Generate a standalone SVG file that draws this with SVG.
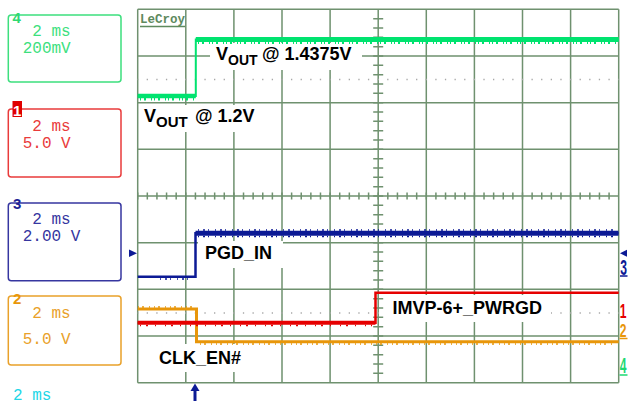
<svg xmlns="http://www.w3.org/2000/svg" width="628" height="407" viewBox="0 0 628 407">
<style>
.grid{stroke:#6f916f;stroke-width:1.5;fill:none}
.dots{stroke:#a8a8a8;stroke-width:1.3;stroke-dasharray:1.3 8.32;stroke-dashoffset:0.65;fill:none}
.box{fill:none;stroke-width:1.5}
.mono{font-family:"Liberation Mono","DejaVu Sans Mono",monospace;font-size:16px}
.num{font-family:"Liberation Sans",Arial,sans-serif;font-weight:bold;font-size:15px}
.lbl{font-family:"Liberation Sans",Arial,sans-serif;font-weight:bold;font-size:18px;fill:#000}
.rm{font-family:"Liberation Sans",Arial,sans-serif;font-size:22px;font-weight:bold}
.wb{fill:#fff}
</style>
<rect width="628" height="407" fill="#fff"/>

<g id="grid">
<path class="grid" d="M137.7 9.3V382.7M185.8 9.3V382.7M233.9 9.3V382.7M282 9.3V382.7M330.1 9.3V382.7M378.2 9.3V382.7M426.3 9.3V382.7M474.4 9.3V382.7M522.5 9.3V382.7M570.6 9.3V382.7M618.7 9.3V382.7"/>
<path class="grid" d="M137.7 9.3H618.7M137.7 56H618.7M137.7 102.65H618.7M137.7 149.3H618.7M137.7 196H618.7M137.7 242.7H618.7M137.7 289.35H618.7M137.7 336H618.7M137.7 382.7H618.7"/>
<line x1="137.7" y1="196" x2="618.7" y2="196" stroke="#6f916f" stroke-width="7" stroke-dasharray="1.5 8.12" stroke-dashoffset="0.75"/>
<line x1="378.2" y1="9.3" x2="378.2" y2="382.7" stroke="#6f916f" stroke-width="10" stroke-dasharray="1.5 7.835" stroke-dashoffset="0.75"/>
<line class="dots" x1="137.7" y1="79.5" x2="618.7" y2="79.5"/>
<line class="dots" x1="137.7" y1="313" x2="618.7" y2="313"/>
</g>

<g id="logo">
<text x="140" y="23" font-family="Liberation Mono,DejaVu Sans Mono,monospace" font-weight="bold" font-size="12.5" fill="#5e8a5e">LeCroy</text>
<line x1="140" y1="26.5" x2="185" y2="26.5" stroke="#5e8a5e" stroke-width="1.5"/>
</g>

<g id="label-boxes">
<rect class="wb" x="210" y="43" width="152" height="27"/>
<rect class="wb" x="140" y="105" width="125" height="27"/>
<rect class="wb" x="198" y="241" width="85" height="27"/>
<rect class="wb" x="385" y="295" width="166" height="27"/>
<rect class="wb" x="152" y="344" width="98" height="28"/>
</g>

<g id="connectors">
<!-- ch4 green -->
<path d="M137.7 96H195.8V39.5H618.7" fill="none" stroke="#00e36f" stroke-width="2"/>
<path d="M137.7 96H195.8" stroke="#00e36f" stroke-width="4.5"/>
<path d="M195.8 39.5H618.7" stroke="#00e36f" stroke-width="5"/>
<path d="M140 99H194M198 42.5H616" stroke="#00e36f" stroke-width="3" stroke-dasharray="1 3 2 5 1 2"/>
<!-- ch3 blue -->
<path d="M137.7 276.7H195.5V233.3H618.5" fill="none" stroke="#0c1a95" stroke-width="2.5"/>
<path d="M195.5 233.3H618.5" stroke="#0c1a95" stroke-width="5"/>
<path d="M198 230H616M198 236.5H616M160 279H192" stroke="#0c1a95" stroke-width="1.5" stroke-dasharray="1 4 2 3 1 6"/>
<!-- ch2 orange -->
<path d="M137.7 309H196.5V341.7H618.7" fill="none" stroke="#e8960a" stroke-width="3"/>
<path d="M138 307H195M200 344H616" stroke="#e8960a" stroke-width="1.5" stroke-dasharray="1 3 2 5 1 4"/>
<!-- ch1 red -->
<path d="M137.7 322.7H375.5V292.7H618.7" fill="none" stroke="#e60000" stroke-width="2.5"/>
<path d="M137.7 322.7H375.5" stroke="#e60000" stroke-width="4"/>
<path d="M140 325.5H372" stroke="#e60000" stroke-width="1.5" stroke-dasharray="1 5 2 7 1 9"/>
</g>

<g id="trace-labels">
<text class="lbl" x="216" y="60">V<tspan font-size="14" dy="5">OUT</tspan><tspan x="262" dy="-5">@ 1.4375V</tspan></text>
<text class="lbl" x="144" y="122" font-size="19">V<tspan font-size="15" dy="5">OUT</tspan><tspan x="195" dy="-5">@ 1.2V</tspan></text>
<text class="lbl" x="205" y="259">PGD_IN</text>
<text class="lbl" x="392.5" y="314">IMVP-6+_PWRGD</text>
<text class="lbl" x="159" y="364">CLK_EN#</text>
</g>

<g id="markers">
<polygon points="137,253.3 129,249.5 129,257" fill="#0c1a95"/>
<polygon points="620,253.3 627,249.8 627,256.8" fill="#0c1a95"/>
<text class="rm" transform="translate(620.3 274.5) scale(0.55 1)" fill="#0c1a95">3</text>
<line x1="620" y1="276" x2="627.5" y2="276" stroke="#0c1a95" stroke-width="1.5"/>
<text class="rm" transform="translate(619.8 317.5) scale(0.55 0.95)" fill="#e60000">1</text>
<text class="rm" transform="translate(619.8 337) scale(0.55 0.8)" fill="#e8960a">2</text>
<line x1="619.5" y1="338.5" x2="627.5" y2="338.5" stroke="#e8960a" stroke-width="1.5"/>
<text class="rm" transform="translate(619.8 372.8) scale(0.55 1)" fill="#1ed873">4</text>
<line x1="619.5" y1="375" x2="627.5" y2="375" stroke="#1ed873" stroke-width="1.5"/>
<path d="M195 390V401" stroke="#0c1a95" stroke-width="3"/>
<polygon points="195,383.5 190.5,391 199.5,391" fill="#0c1a95"/>
</g>

<g id="ch4">
<rect class="box" x="8.3" y="15" width="112.7" height="67" rx="3" stroke="#3ddf7e"/>
<text class="num" x="12.5" y="22.5" fill="#2fd872">4</text>
<text class="mono" x="32.3" y="36" fill="#3ddf7e">2 ms</text>
<text class="mono" x="22.7" y="53.3" fill="#3ddf7e">200mV</text>
</g>

<g id="ch1">
<rect class="box" x="8.3" y="109" width="112.7" height="68" rx="3" stroke="#e93b3b"/>
<rect x="12.5" y="101" width="9.5" height="16" fill="#e00000"/>
<text class="num" x="13" y="115.5" fill="#fff">1</text>
<text class="mono" x="32.3" y="131" fill="#e93b3b">2 ms</text>
<text class="mono" x="22.7" y="147.7" fill="#e93b3b">5.0 V</text>
</g>

<g id="ch3">
<rect class="box" x="8.3" y="203" width="112.7" height="77.7" rx="3" stroke="#3636a0"/>
<text class="num" x="13" y="208.5" fill="#1f1f95">3</text>
<text class="mono" x="32.3" y="224.3" fill="#3636a0">2 ms</text>
<text class="mono" x="22.7" y="241" fill="#3636a0">2.00 V</text>
</g>

<g id="ch2">
<rect class="box" x="8.3" y="296" width="112.7" height="69" rx="3" stroke="#e9a12a"/>
<text class="num" x="13" y="303.5" fill="#e8960a" font-size="16">2</text>
<text class="mono" x="32.3" y="318.3" fill="#e9a12a">2 ms</text>
<text class="mono" x="22.7" y="344.3" fill="#e9a12a">5.0 V</text>
</g>

<g id="timebase">
<text class="mono" x="13" y="400" fill="#22d6e6">2 ms</text>
</g>
</svg>
